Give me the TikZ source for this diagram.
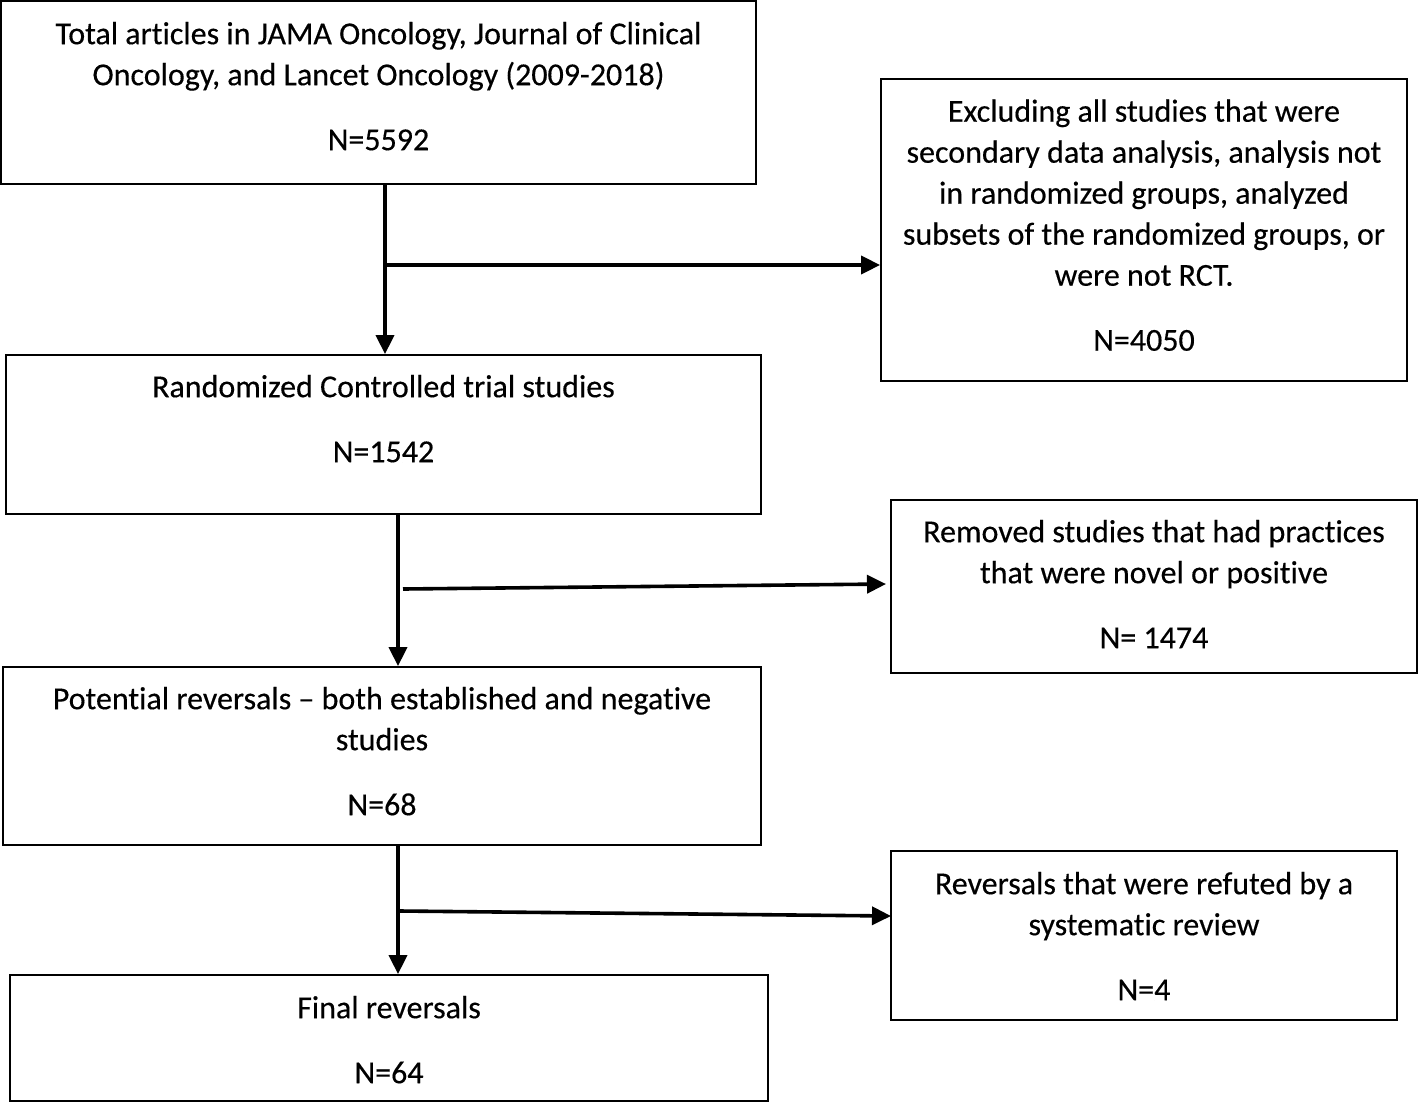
\documentclass[tikz,border=0pt]{standalone}
\usepackage{fontspec}
\setmainfont{Carlito}[Ligatures=NoCommon,UprightFeatures={FakeBold=0.35}]
\usetikzlibrary{arrows.meta,calc}
\begin{document}
\begin{tikzpicture}[x=1pt,y=-1pt,
  box/.style={draw, line width=1.8pt, inner sep=0pt, rectangle},
  txt/.style={align=center, font=\fontsize{32}{41}\selectfont, inner sep=0pt},
  arr/.style={line width=3.6pt, -{Triangle[length=19pt,width=18pt]}}]
\useasboundingbox (0,0) rectangle (1418,1103);
% boxes
\node[box, minimum width=755pt, minimum height=183pt] (b1) at (378.5,92.5) {};
\node[box, minimum width=526pt, minimum height=302pt] (b2) at (1144,230) {};
\node[box, minimum width=755pt, minimum height=159pt] (b3) at (383.5,434.5) {};
\node[box, minimum width=526pt, minimum height=173pt] (b4) at (1154,586.5) {};
\node[box, minimum width=758pt, minimum height=178pt] (b5) at (382,756) {};
\node[box, minimum width=506pt, minimum height=169pt] (b6) at (1144,935.5) {};
\node[box, minimum width=758pt, minimum height=126pt] (b7) at (389,1038) {};
% texts
\node[txt] (t1) at (378.5,89) {\strut Total articles in JAMA Oncology, Journal of Clinical\\Oncology, and Lancet Oncology (2009-2018)\\[24pt]N=5592\strut};
\node[txt] (t2) at (1144,228) {\strut Excluding all studies that were\\secondary data analysis, analysis not\\in randomized groups, analyzed\\subsets of the randomized groups, or\\were not RCT.\\[24pt]N=4050\strut};
\node[txt] (t3) at (383.5,421.5) {\strut Randomized Controlled trial studies\\[24pt]N=1542\strut};
\node[txt] (t4) at (1154,587) {\strut Removed studies that had practices\\that were novel or positive\\[24pt]N= 1474\strut};
\node[txt] (t5) at (382,754) {\strut Potential reversals -- both established and negative\\studies\\[24pt]N=68\strut};
\node[txt] (t6) at (1144,939) {\strut Reversals that were refuted by a\\systematic review\\[24pt]N=4\strut};
\node[txt] (t7) at (389,1042.5) {\strut Final reversals\\[24pt]N=64\strut};
% connectors
\coordinate (x1) at (385,0);
\coordinate (x2) at (398,0);
\coordinate (j1) at (385,265);
\coordinate (s2) at (403,589);
\coordinate (e2) at (886,584);
\coordinate (s3) at (400,911);
\coordinate (e3) at (891,916);
\draw[arr] (b1.south -| x1) -- (b3.north -| x1);
\draw[arr] (j1) -- (j1 -| b2.west);
\draw[arr] (b3.south -| x2) -- (b5.north -| x2);
\draw[arr] (s2) -- (e2);
\draw[arr] (b5.south -| x2) -- (b7.north -| x2);
\draw[arr] (s3) -- (e3);
\end{tikzpicture}
\end{document}
